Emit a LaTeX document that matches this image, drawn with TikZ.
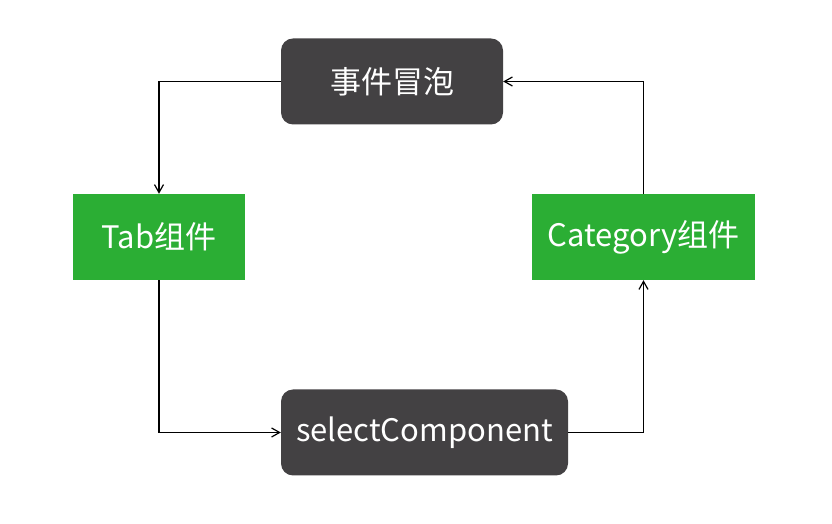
\documentclass[tikz,border=0pt]{standalone}
\usepackage{fontspec}
\setmainfont{Noto Sans CJK SC}
\usetikzlibrary{arrows.meta}

\definecolor{boxdark}{HTML}{434143}
\definecolor{boxgreen}{HTML}{2BAE34}

\tikzset{
    darkbox/.style={shape=rectangle,fill=boxdark,rounded corners=12pt,text=white,font=\fontsize{31}{36}\selectfont,minimum height=86pt,inner sep=0pt},
    greenbox/.style={shape=rectangle,fill=boxgreen,text=white,font=\fontsize{31}{36}\selectfont,minimum height=86pt,inner sep=0pt},
    link/.style={draw=black,line width=1.2pt,-{Straight Barb[length=8pt,width=9pt]}}
}

\begin{document}
\begin{tikzpicture}[x=1pt,y=1pt]
        \useasboundingbox (0,0) rectangle (832,524);

        \node[darkbox,minimum width=222pt] (bubble) at (392,442.5) {事件冒泡};
        \node[greenbox,minimum width=172pt] (tab) at (159,287) {Tab组件};
        \node[greenbox,minimum width=223pt] (category) at (643.5,287) {Category组件};
        \node[darkbox,minimum width=287pt] (select) at (424.5,91.5) {selectComponent};

        \path [link] (bubble.west) -| (tab.north);
        \path [link] (tab.south) |- (select.west);
        \path [link] (select.east) -| (category.south);
        \path [link] (category.north) |- (bubble.east);
    \end{tikzpicture}
\end{document}
